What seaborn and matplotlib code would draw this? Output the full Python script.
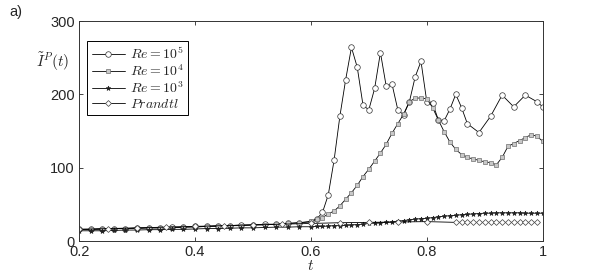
import matplotlib
matplotlib.use("Agg")
import matplotlib.pyplot as plt
import pandas as pd
import seaborn as sns

# ---------------- data ----------------
t_early = [0.20, 0.22, 0.24, 0.26, 0.28, 0.30, 0.32, 0.34, 0.36, 0.38, 0.40,
           0.42, 0.44, 0.46, 0.48, 0.50, 0.52, 0.54, 0.56, 0.58, 0.60]

t_re5 = t_early + [0.61, 0.62, 0.63, 0.64, 0.65, 0.66, 0.67, 0.68, 0.69, 0.70,
                   0.71, 0.72, 0.73, 0.74, 0.75, 0.76, 0.77, 0.78, 0.79, 0.80,
                   0.81, 0.82, 0.83, 0.84, 0.85, 0.86, 0.87, 0.89, 0.91, 0.93,
                   0.95, 0.97, 0.99, 1.00]
re5 = [16, 16, 17, 17, 17, 18, 18, 18, 19, 19, 20, 20, 21, 21, 22, 22, 23, 23, 24, 25, 26,
       30, 39, 63, 110, 170, 220, 264, 237, 185, 179,
       208, 257, 211, 214, 179, 172, 190, 224, 245, 190,
       188, 165, 164, 180, 200, 182, 160, 148, 170, 199,
       183, 199, 190, 183]

t_re4 = t_early + [0.61, 0.62, 0.63, 0.64, 0.65, 0.66, 0.67, 0.68, 0.69, 0.70,
                   0.71, 0.72, 0.73, 0.74, 0.75, 0.76, 0.77, 0.78, 0.79, 0.80,
                   0.81, 0.82, 0.83, 0.84, 0.85, 0.86, 0.87, 0.88, 0.89, 0.90,
                   0.91, 0.92, 0.93, 0.94, 0.95, 0.96, 0.97, 0.98, 0.99, 1.00]
re4 = [16, 16, 16, 17, 17, 17, 18, 18, 18, 19, 19, 20, 20, 21, 21, 22, 22, 23, 24, 25, 27,
       30, 32, 37, 41, 48, 57, 66, 76, 88, 98,
       109, 120, 132, 147, 160, 173, 190, 195, 195, 194,
       182, 165, 149, 135, 125, 118, 114, 112, 110, 108,
       107, 104, 114, 129, 133, 137, 141, 145, 143, 136]

t_re3 = t_re4
re3 = [14, 14, 14, 14.5, 15, 15, 15.5, 15.5, 16, 16, 16.5, 17, 17, 17.5, 18, 18, 18.5, 19, 19, 19.5, 19.5,
       20, 20, 20.5, 21, 21, 21.5, 22, 22.5, 23, 24,
       24.5, 25, 25.5, 26, 27, 28, 29, 30, 30.5, 31,
       32, 33, 34, 34.5, 35, 36, 36.5, 37, 37.5, 38,
       38, 38.5, 38.5, 38.5, 38.5, 38.5, 38, 38, 38, 38]

t_pr = [0.20, 0.25, 0.30, 0.35, 0.40, 0.45, 0.50, 0.55, 0.60, 0.65, 0.70, 0.75, 0.80,
        0.85, 0.86, 0.87, 0.88, 0.89, 0.90, 0.91, 0.92, 0.93, 0.94, 0.95, 0.96, 0.97, 0.98, 0.99]
prandtl = [16, 17, 18, 19, 20, 21, 22, 23, 24, 25, 25.5, 26, 26.5,
           25.5, 25.5, 25.5, 25.5, 25.5, 25.5, 25.5, 25.5, 25.5, 25.5, 25.5, 25.5, 25.5, 25.5, 25.5]

labels = [r'$Re=10^5$', r'$Re=10^4$', r'$Re=10^3$', r'$Prandtl$']
x_ticks = [0.2, 0.4, 0.6, 0.8, 1.0]
x_ticklabels = ['0.2', '0.4', '0.6', '0.8', '1']
y_ticks = [0, 100, 200, 300]

# ---------------- drawing ----------------
sns.set_style("ticks")
plt.rcParams['font.family'] = ['Liberation Sans', 'DejaVu Sans']
plt.rcParams['mathtext.fontset'] = 'cm'

fig = plt.figure(figsize=(5.99, 2.73), dpi=100)
ax = fig.add_axes([0.132, 0.117, 0.774, 0.806])

styles = [
    (t_re5, re5, dict(marker='o', markersize=4, markerfacecolor='white', markeredgecolor='#303030')),
    (t_re4, re4, dict(marker='s', markersize=3.5, markerfacecolor='#c8c8c8', markeredgecolor='#707070')),
    (t_re3, re3, dict(marker='*', markersize=3.5, markerfacecolor='#202020', markeredgecolor='#202020')),
    (t_pr, prandtl, dict(marker='D', markersize=3, markerfacecolor='white', markeredgecolor='#404040')),
]
for (tt, vv, kw), lab in zip(styles, labels):
    df = pd.DataFrame({'t': tt, 'I': vv})
    sns.lineplot(data=df, x='t', y='I', ax=ax, color='black', linewidth=0.6,
                 markeredgewidth=0.5, label=lab, **kw)

ax.set_xlim(0.2, 1.0)
ax.set_ylim(0, 300)
ax.set_xticks(x_ticks)
ax.set_xticklabels(x_ticklabels)
ax.set_yticks(y_ticks)
ax.tick_params(direction='in', length=3, width=0.6, labelsize=10.5,
               top=True, right=True, pad=3)
for s in ax.spines.values():
    s.set_linewidth(0.7)
    s.set_color('#333333')

ax.set_xlabel(r'$t$', fontsize=11, labelpad=0)
ax.set_ylabel('')
fig.text(0.06, 0.775, r'$\tilde{I}^P(t)$', fontsize=11, ha='left', va='center')
fig.text(0.015, 0.955, 'a)', fontsize=10.5, ha='left', va='center')

leg = ax.legend(loc='upper left', bbox_to_anchor=(0.012, 0.92), fontsize=10,
                frameon=True, fancybox=False, edgecolor='black', framealpha=1,
                handlelength=2.4, handletextpad=0.4, borderpad=0.3,
                labelspacing=0.1, borderaxespad=0.2)
leg.get_frame().set_linewidth(0.7)

fig.savefig('out.png', dpi=100)
